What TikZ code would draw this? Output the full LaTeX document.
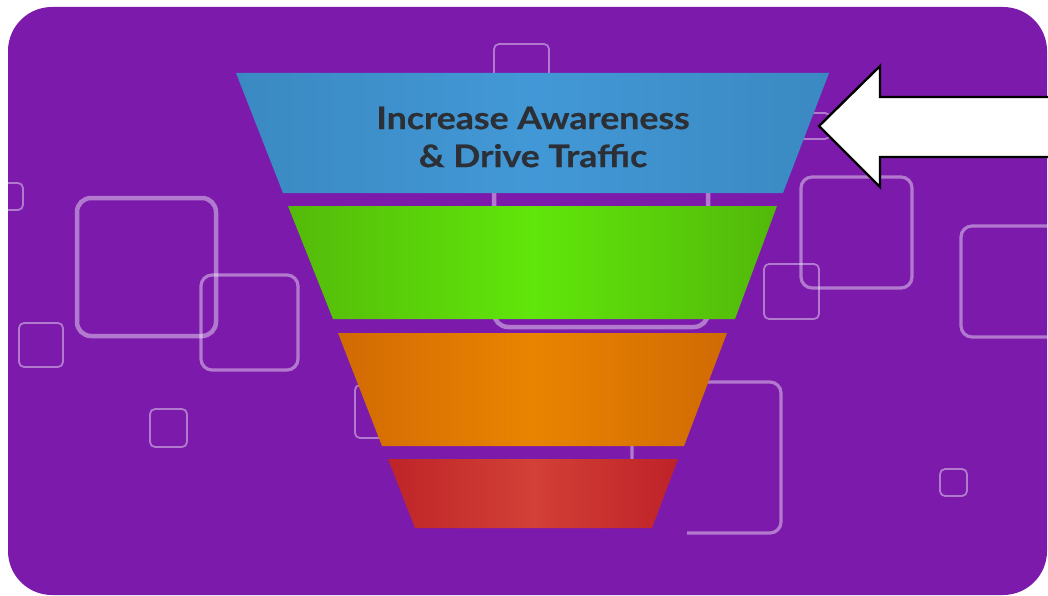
\documentclass[tikz,border=0pt]{standalone}
\usepackage{fontspec}
\setmainfont{Lato}
\newfontfamily\titlefont{Lato}[FakeStretch=1.15,FakeBold=0.6]
\begin{document}
\begin{tikzpicture}[x=1pt,y=-1pt,
  deco/.style={draw=white,draw opacity=0.42,rounded corners=#1},
  thick deco/.style={deco=14,line width=4.5pt},
  mid deco/.style={deco=11,line width=3.2pt},
  thin deco/.style={deco=5,line width=1.8pt},
  outline arrow/.style={fill=white,draw=black,line width=2.4pt,line join=miter}]
\definecolor{bgpurple}{RGB}{124,26,172}
\definecolor{txt}{RGB}{44,48,54}
\useasboundingbox[fill=white] (0,0) rectangle (1048,596);
\fill[bgpurple,rounded corners=44] (8,7) rectangle (1047,595);
\begin{scope}
\clip[rounded corners=44] (8,7) rectangle (1047,595);
% decorative squares
\draw[thin deco] (-30,183) rectangle (23,210);
\draw[thin deco] (494,44) rectangle (549,140);
\draw[thick deco] (494,150) rectangle (708,327);
\draw[thick deco] (77,198) rectangle (216,336);
\draw[mid deco] (201,275) rectangle (298,370);
\draw[thin deco] (19,323) rectangle (63,367);
\draw[thin deco] (150,409) rectangle (187,447);
\draw[mid deco] (801,177) rectangle (912,288);
\draw[thin deco] (764,264) rectangle (819,319);
\draw[mid deco] (961,226) rectangle (1080,337);
\draw[mid deco] (687,533) -- (781,533) -- (781,382) -- (632,382) -- (632,480);
\draw[thin deco] (355,385) rectangle (410,438);
\draw[thin deco] (940,469) rectangle (967,496);
\draw[thin deco] (798,113) rectangle (830,139);
\end{scope}
% funnel
\shade[left color={rgb,255:red,58;green,137;blue,194},right color={rgb,255:red,58;green,137;blue,194},middle color={rgb,255:red,66;green,152;blue,214}]
  (236,73) -- (829,73) -- (783,193) -- (283,193) -- cycle;
\shade[left color={rgb,255:red,84;green,186;blue,10},right color={rgb,255:red,82;green,184;blue,10},middle color={rgb,255:red,96;green,230;blue,10}]
  (288,206) -- (777,206) -- (735,319) -- (333,319) -- cycle;
\shade[left color={rgb,255:red,210;green,106;blue,4},right color={rgb,255:red,208;green,106;blue,4},middle color={rgb,255:red,233;green,132;blue,0}]
  (338,333) -- (727,333) -- (684,446) -- (382,446) -- cycle;
\shade[left color={rgb,255:red,190;green,36;blue,40},right color={rgb,255:red,190;green,34;blue,40},middle color={rgb,255:red,210;green,64;blue,54}]
  (388,459) -- (678,459) -- (652,528) -- (415,528) -- cycle;
\node[text=txt,font=\titlefont\fontsize{31}{38}\selectfont\bfseries,align=center] (label) at (533,137) {Increase Awareness\\\& Drive Traffic};
% arrow
\draw[outline arrow] (819,126) -- (880,66) -- (880,97) -- (1060,97) -- (1060,157) -- (880,157) -- (880,187) -- cycle;
\end{tikzpicture}
\end{document}
